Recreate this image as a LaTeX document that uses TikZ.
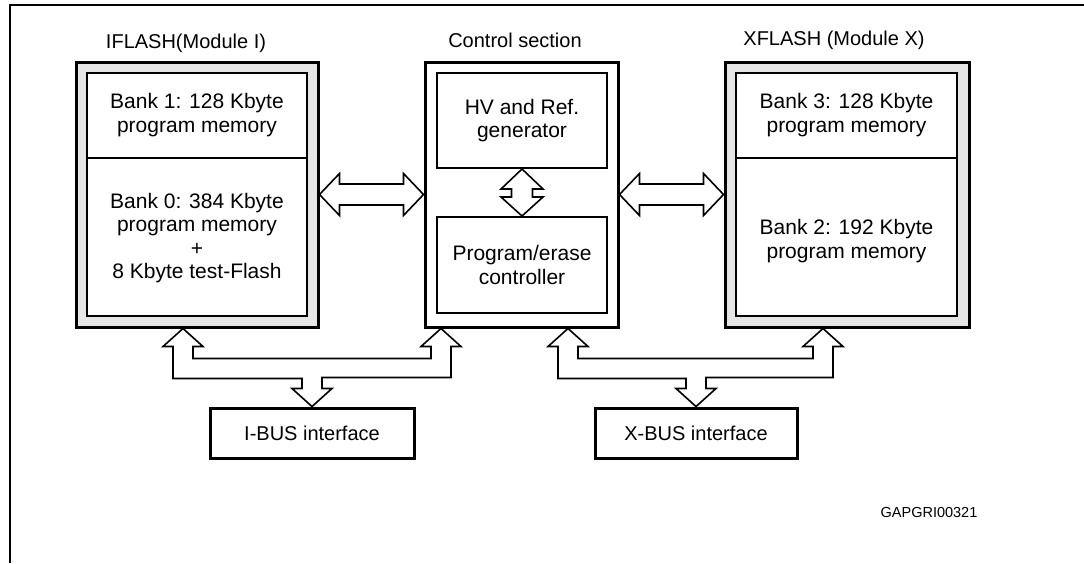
\documentclass[tikz,border=0pt]{standalone}
\usepackage{fontspec}
\setmainfont{Liberation Sans}
\usetikzlibrary{calc}
\begin{document}
\begin{tikzpicture}[x=1pt,y=-1pt,
  every node/.style={font=\fontsize{20}{23}\selectfont, align=center, inner sep=0pt},
  boxtext/.style={font=\fontsize{21}{23.5}\selectfont},
  outerbox/.style={draw, line width=3pt, fill=black!10, minimum width=242pt, minimum height=265pt},
  ctrlbox/.style={draw, line width=3pt, fill=white, minimum width=193pt, minimum height=265pt},
  innerbox/.style={draw, line width=2pt, fill=white},
  busbox/.style={draw, line width=3pt, minimum height=50pt},
  busarrow/.style={draw, line width=1.6pt, fill=white, line join=miter},
  divider/.style={line width=1.2pt},
  smalltext/.style={font=\fontsize{14.5}{17}\selectfont}
]
\useasboundingbox (0,0) rectangle (1084,563);
% frame
\draw[line width=2pt] (10,563) -- (10,5) -- (1084,5);

% IFLASH
\node[outerbox] (iflash) at (197,194.5) {};
\node[innerbox, minimum width=220pt, minimum height=243pt] (iin) at (197,194.5) {};
\draw[divider] (87,158) -- (307,158);
\node[boxtext] (b1) at (197,115) {Bank 1: 128 Kbyte\\program memory};
\node[boxtext] (b0) at (197,238) {Bank 0: 384 Kbyte\\program memory\\+\\8 Kbyte test-Flash};
\node (ilbl) at (186,43) {IFLASH(Module I)};

% Control
\node[ctrlbox] (ctrl) at (521.5,194.5) {};
\node[innerbox, boxtext, minimum width=170pt, minimum height=95pt] (hv) at (522,120.5) {HV and Ref.\\generator};
\node[innerbox, boxtext, minimum width=170pt, minimum height=96pt] (pe) at (522,265) {Program/erase\\controller};
\node (clbl) at (515,40) {Control section};

% XFLASH
\node[outerbox, minimum width=244pt] (xflash) at (847,194.5) {};
\node[innerbox, minimum width=221pt, minimum height=243pt] (xin) at (846.5,194.5) {};
\draw[divider] (736,158) -- (957,158);
\node[boxtext] (b3) at (846.5,115) {Bank 3: 128 Kbyte\\program memory};
\node[boxtext] (b2) at (846.5,241) {Bank 2: 192 Kbyte\\program memory};
\node (xlbl) at (834,40) {XFLASH (Module X)};

% horizontal double arrows
\draw[busarrow] (iflash.east) -- ++(20,-21) -- ++(0,10.5) -- ($(ctrl.west)+(-20,-10.5)$) -- ++(0,-10.5) -- (ctrl.west)
  -- ++(-20,21) -- ++(0,-10.5) -- ($(iflash.east)+(20,10.5)$) -- ++(0,10.5) -- cycle;
\draw[busarrow] (ctrl.east) -- ++(20,-21) -- ++(0,10.5) -- ($(xflash.west)+(-20,-10.5)$) -- ++(0,-10.5) -- (xflash.west)
  -- ++(-20,21) -- ++(0,-10.5) -- ($(ctrl.east)+(20,10.5)$) -- ++(0,10.5) -- cycle;

% vertical double arrow
\draw[busarrow] (hv.south) -- ++(21,20) -- ++(-10.5,0) -- ($(pe.north)+(10.5,-19)$) -- ++(10.5,0) -- (pe.north)
  -- ++(-21,-19) -- ++(10.5,0) -- ($(hv.south)+(-10.5,20)$) -- ++(-10.5,0) -- cycle;

% bus interfaces
\node[busbox, minimum width=204pt] (ibus) at (312,433) {I-BUS interface};
\node[busbox, minimum width=202pt] (xbus) at (696,433) {X-BUS interface};

\coordinate (t1) at ($(iflash.south)+(-14,0)$);
\coordinate (t2) at ($(ctrl.south)+(-80.5,0)$);
\coordinate (t3) at ($(ctrl.south)+(46.5,0)$);
\coordinate (t4) at ($(xflash.south)+(-24,0)$);

\draw[busarrow] (t1) -- ++(20,18) -- ++(-10,0) |- ($(t2)+(-10,30)$) -- ++(0,-12) -- ++(-10,0) -- (t2)
  -- ++(20,18) -- ++(-10,0) |- ($(ibus.north)+(10,-29)$) -- ++(0,11) -- ++(10,0) -- (ibus.north)
  -- ++(-20,-18) -- ++(10,0) |- ($(t1)+(-10,50)$) -- ++(0,-32) -- ++(-10,0) -- cycle;
\draw[busarrow] (t3) -- ++(20,18) -- ++(-10,0) |- ($(t4)+(-10,30)$) -- ++(0,-12) -- ++(-10,0) -- (t4)
  -- ++(20,18) -- ++(-10,0) |- ($(xbus.north)+(10,-29)$) -- ++(0,11) -- ++(10,0) -- (xbus.north)
  -- ++(-20,-18) -- ++(10,0) |- ($(t3)+(-10,50)$) -- ++(0,-32) -- ++(-10,0) -- cycle;

\node[smalltext] (code) at (929,512) {GAPGRI00321};
\end{tikzpicture}
\end{document}
